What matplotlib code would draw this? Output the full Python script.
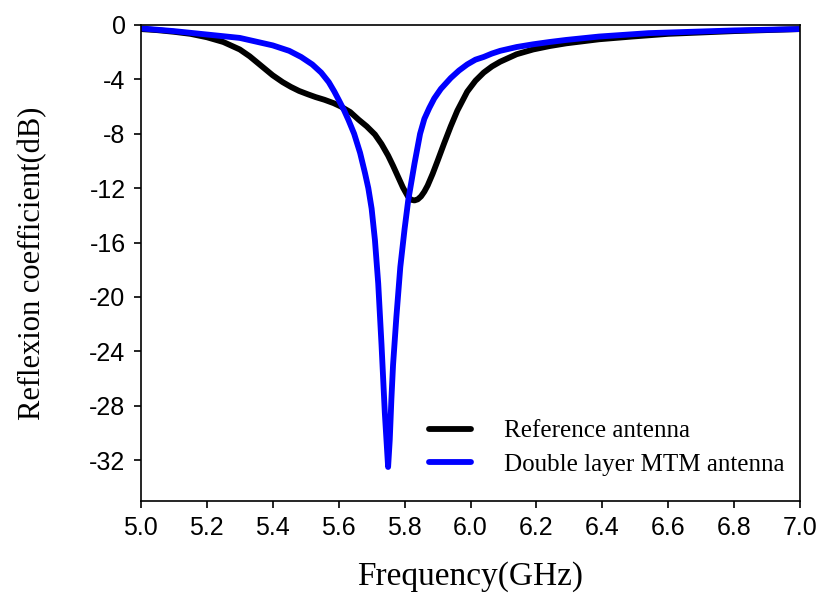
import matplotlib
matplotlib.use('Agg')
import matplotlib.pyplot as plt

# frequency (GHz) and reflexion coefficient (dB)
ref_freq = [5.00, 5.05, 5.10, 5.15, 5.20, 5.25, 5.30, 5.33, 5.355, 5.38, 5.40, 5.43,
            5.455, 5.48, 5.507, 5.53, 5.557, 5.585, 5.607, 5.635, 5.66, 5.685, 5.71,
            5.73, 5.75, 5.765, 5.78, 5.795, 5.81, 5.82, 5.83, 5.84, 5.85, 5.86, 5.87,
            5.885, 5.90, 5.92, 5.94, 5.96, 5.99, 6.015, 6.04, 6.065, 6.09, 6.14, 6.19,
            6.24, 6.29, 6.39, 6.49, 6.60, 6.80, 7.00]
ref_s11 = [-0.3, -0.38, -0.5, -0.65, -0.9, -1.25, -1.8, -2.3, -2.8, -3.3, -3.7, -4.2,
           -4.55, -4.85, -5.1, -5.3, -5.5, -5.75, -6.0, -6.4, -6.95, -7.45, -8.05,
           -8.75, -9.6, -10.35, -11.15, -11.95, -12.6, -12.85, -12.9, -12.82, -12.6, -12.25, -11.8,
           -10.95, -10.0, -8.7, -7.45, -6.3, -4.9, -4.1, -3.5, -3.05, -2.7, -2.15, -1.8,
           -1.55, -1.35, -1.05, -0.85, -0.65, -0.45, -0.3]

mtm_freq = [5.00, 5.10, 5.20, 5.30, 5.40, 5.45, 5.486, 5.52, 5.547, 5.57, 5.587, 5.60,
            5.617, 5.63, 5.647, 5.665, 5.68, 5.69, 5.70, 5.71, 5.72, 5.73, 5.74, 5.750,
            5.755, 5.76, 5.765, 5.775, 5.787, 5.80, 5.811, 5.83, 5.847, 5.86, 5.875,
            5.89, 5.91, 5.94, 5.965, 5.99, 6.015, 6.04, 6.065, 6.09, 6.14, 6.19, 6.24,
            6.29, 6.39, 6.54, 6.80, 7.00]
mtm_s11 = [-0.25, -0.45, -0.7, -0.95, -1.5, -1.9, -2.35, -2.9, -3.5, -4.2, -4.9, -5.5,
           -6.3, -7.0, -8.0, -9.4, -10.9, -12.0, -13.5, -15.8, -19.0, -23.5, -28.5, -32.5,
           -30.5, -27.5, -25.0, -21.5, -17.8, -15.0, -12.9, -10.2, -8.0, -6.9, -6.1,
           -5.4, -4.7, -3.9, -3.35, -2.9, -2.55, -2.35, -2.1, -1.9, -1.62, -1.42, -1.25,
           -1.1, -0.85, -0.6, -0.4, -0.3]

x_ticks = [5.0, 5.2, 5.4, 5.6, 5.8, 6.0, 6.2, 6.4, 6.6, 6.8, 7.0]
y_ticks = [0, -4, -8, -12, -16, -20, -24, -28, -32]

sans = 'Liberation Sans'
serif = 'Liberation Serif'

fig = plt.figure(figsize=(8.19, 5.95), dpi=100)
ax = fig.add_axes([0.172, 0.158, 0.805, 0.800])

ax.plot(ref_freq, ref_s11, color='black', lw=4.2, solid_joinstyle='round',
        solid_capstyle='round', label='Reference antenna')
ax.plot(mtm_freq, mtm_s11, color='#0000ff', lw=4.2, solid_joinstyle='round',
        solid_capstyle='round', label='Double layer MTM antenna')

ax.set_xlim(5.0, 7.0)
ax.set_ylim(-35, 0)
ax.set_xticks(x_ticks)
ax.set_xticklabels([f'{v:.1f}' for v in x_ticks], fontfamily=sans, fontsize=18)
ax.set_yticks(y_ticks)
ax.set_yticklabels([str(v) for v in y_ticks], fontfamily=sans, fontsize=18)
ax.tick_params(direction='out', length=5, width=1.2, pad=6)
for s in ax.spines.values():
    s.set_linewidth(1.2)

ax.set_xlabel('Frequency(GHz)', fontfamily=serif, fontsize=24, labelpad=15)
ax.set_ylabel('Reflexion coefficient(dB)', fontfamily=serif, fontsize=22, labelpad=30)

ax.legend(loc='lower right', bbox_to_anchor=(1.01, 0.005), frameon=False,
          prop={'family': serif, 'size': 18}, handlelength=1.7, handletextpad=1.3,
          labelspacing=0.45)

fig.savefig('out.png', dpi=100)
